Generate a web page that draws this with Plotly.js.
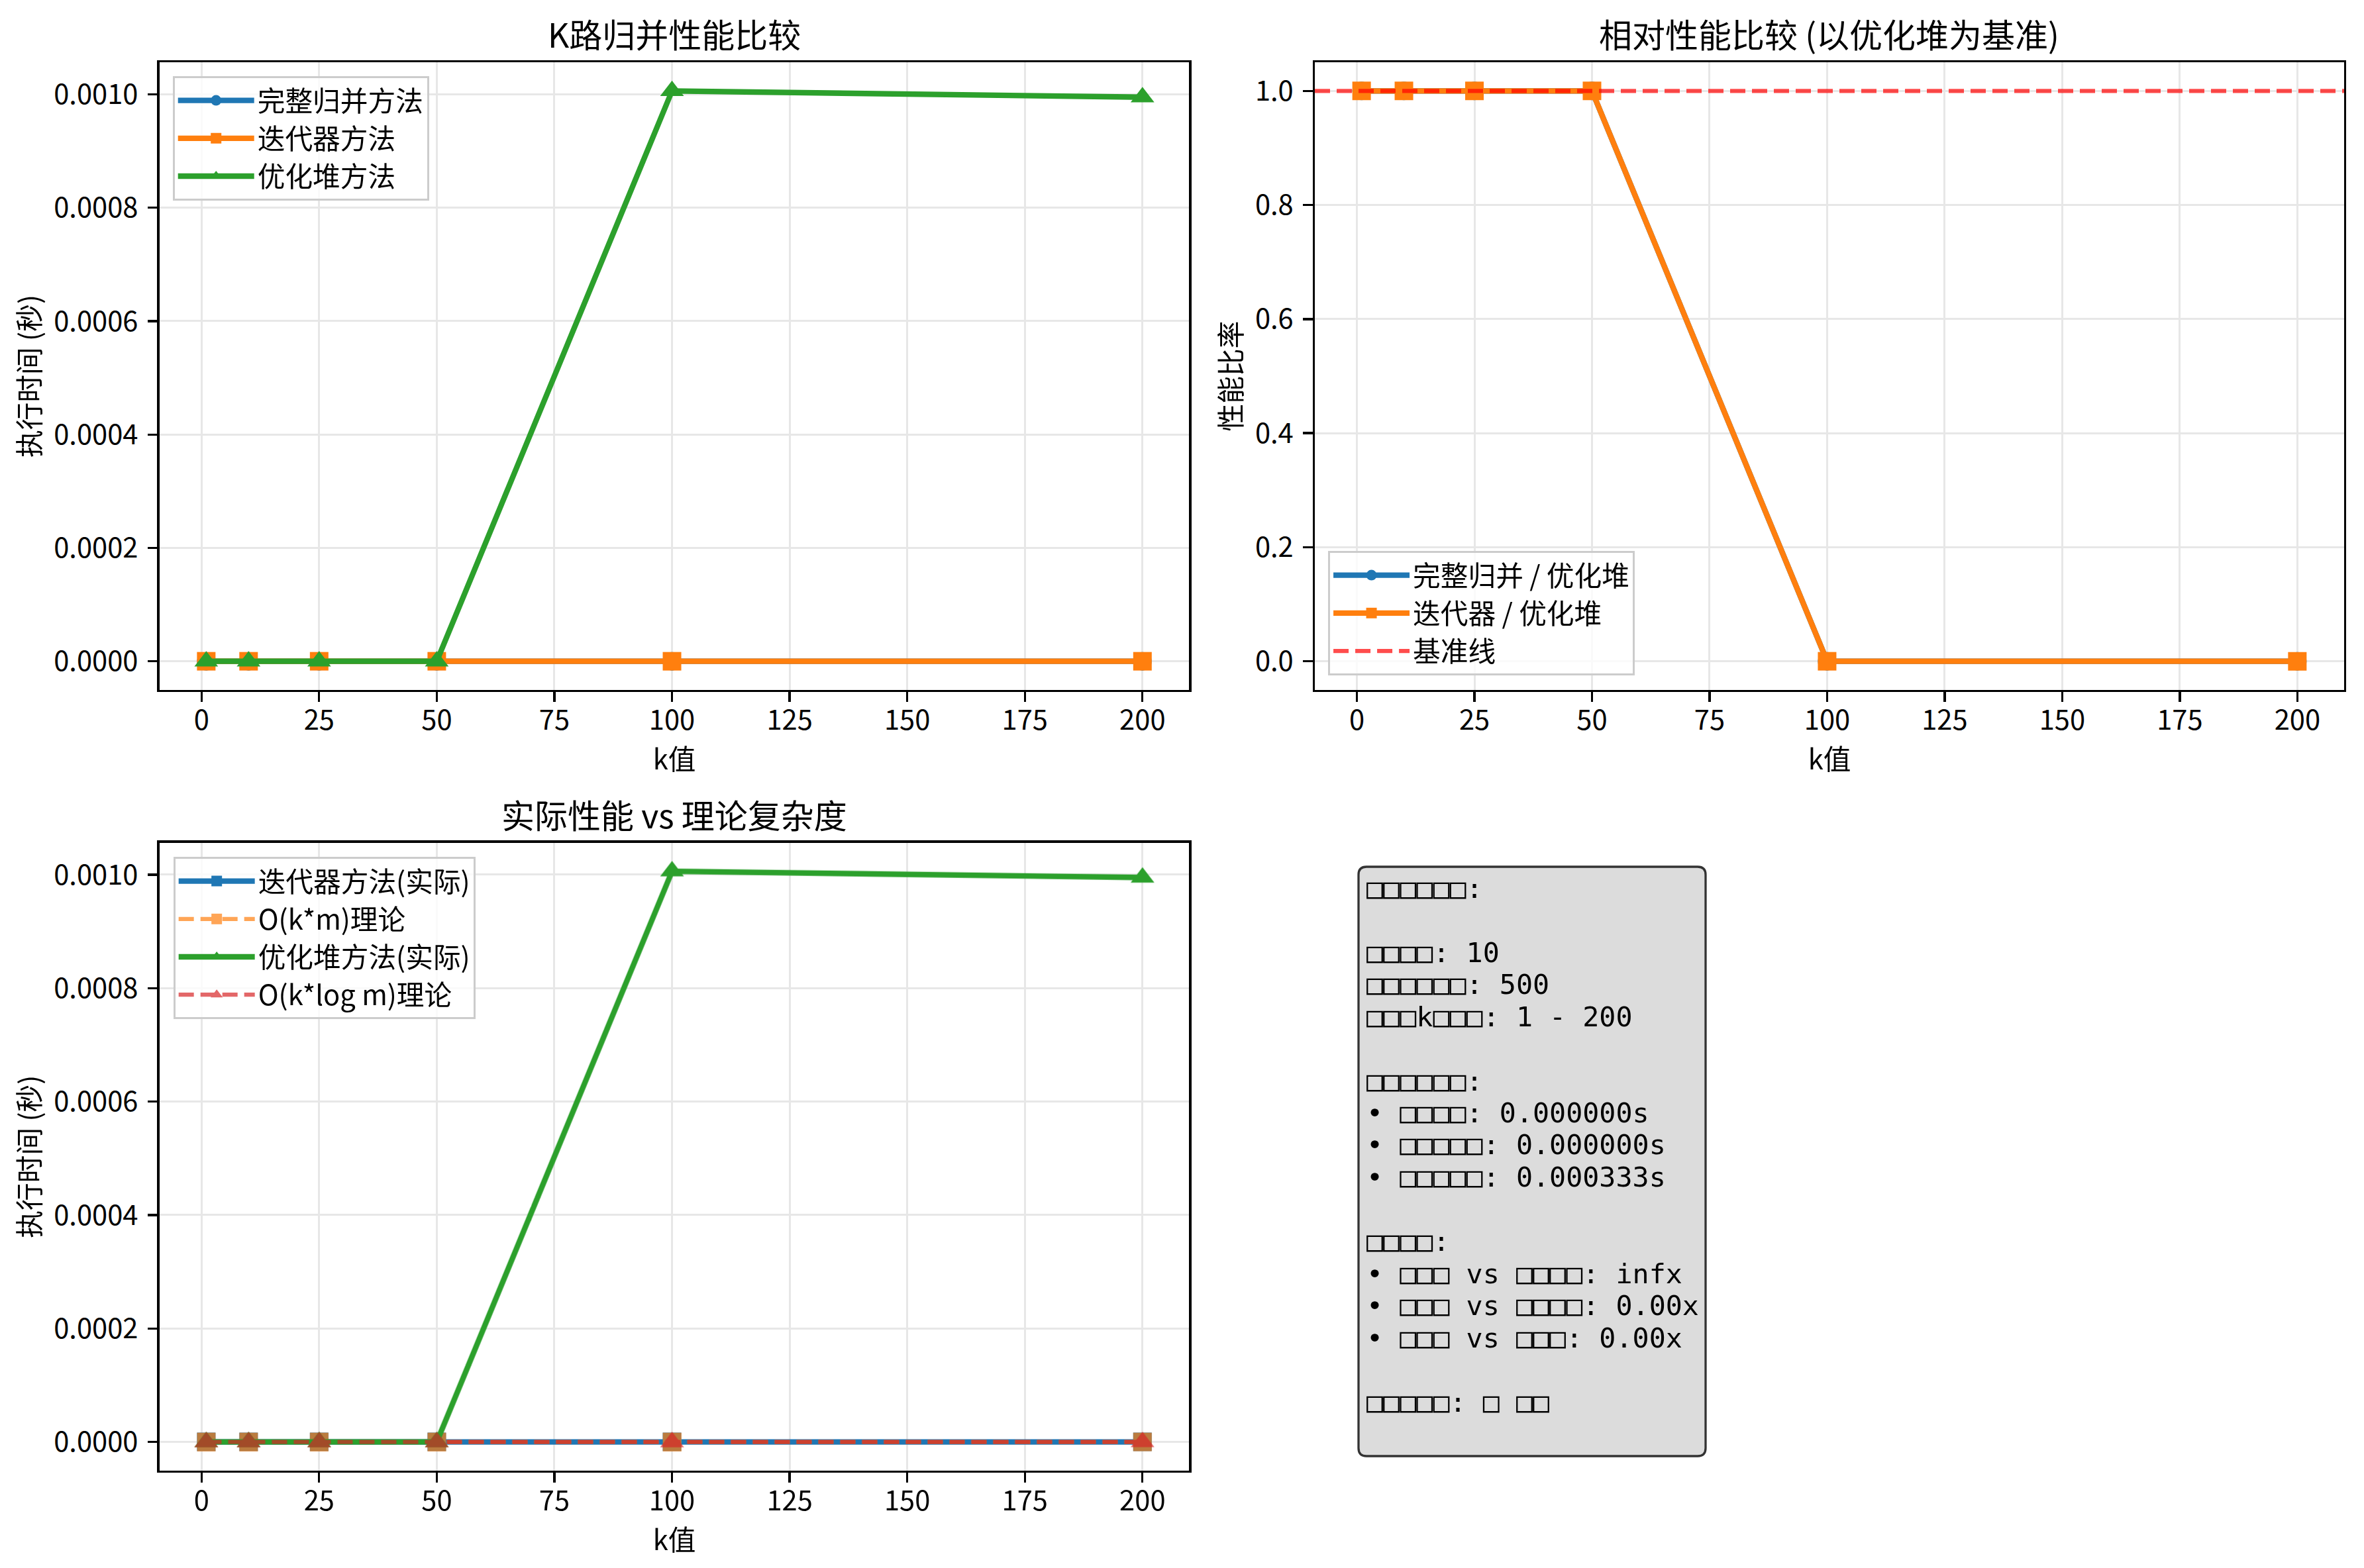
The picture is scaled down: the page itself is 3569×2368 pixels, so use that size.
<!DOCTYPE html>
<html>
<head>
<meta charset="utf-8">
<script src="https://cdn.plot.ly/plotly-3.0.1.min.js"></script>
<style>html,body{margin:0;padding:0;background:#fff;}#chart{width:3569px;height:2368px;}</style>
</head>
<body>
<div id="chart"></div>
<script>
// ---- data ----
const kValues = [1, 10, 25, 50, 100, 200];
const fullMergeTimes = [0, 0, 0, 0, 0, 0];
const iteratorTimes = [0, 0, 0, 0, 0, 0];
const heapTimes = [0, 0, 0, 0, 0.001006, 0.000995];
const fullVsHeapRatio = [1, 1, 1, 1, 0, 0];
const iterVsHeapRatio = [1, 1, 1, 1, 0, 0];
const baselineValue = 1.0;
const theoryKM = [0, 0, 0, 0, 0, 0];
const theoryKLogM = [0, 0, 0, 0, 0, 0];
const xTicks = [0, 25, 50, 75, 100, 125, 150, 175, 200];
const timeTicks = [0, 0.0002, 0.0004, 0.0006, 0.0008, 0.0010];
const ratioTicks = [0, 0.2, 0.4, 0.6, 0.8, 1.0];
const summaryLines = [
  "□□□□□□:",
  "",
  "□□□□: 10",
  "□□□□□□: 500",
  "□□□k□□□: 1 - 200",
  "",
  "□□□□□□:",
  "• □□□□: 0.000000s",
  "• □□□□□: 0.000000s",
  "• □□□□□: 0.000333s",
  "",
  "□□□□:",
  "• □□□ vs □□□□: infx",
  "• □□□ vs □□□□: 0.00x",
  "• □□□ vs □□□: 0.00x",
  "",
  "□□□□□: □ □□"
];

// ---- styling ----
const W = 3569, H = 2368;
const C = {blue:'#1f77b4', orange:'#ff7f0e', green:'#2ca02c', red:'#d62728'};
const FONT = 'Noto Sans CJK SC, sans-serif';
const FS = 41.7;
const LW = 8.3;
const MS = 28;
const TRI = 31;
const DASH = '23px,10px';

function pad(arr, frac){ const mn = Math.min(...arr), mx = Math.max(...arr); const p = (mx-mn)*frac; return [mn-p, mx+p]; }
const xRange = pad(kValues, 0.05);
const tRange = pad(heapTimes.concat(iteratorTimes, fullMergeTimes), 0.05);
const rRange = pad(iterVsHeapRatio.concat([baselineValue]), 0.05);

function line(x, y, name, color, sym, ax, leg, extra){
  return Object.assign({
    x: x, y: y, name: name, type: 'scatter', mode: 'lines+markers',
    xaxis: 'x'+ax, yaxis: 'y'+ax, legend: leg,
    line: {color: color, width: LW},
    marker: {symbol: sym, size: sym==='triangle-up'?TRI:MS, color: color, line: {width: 0}}
  }, extra||{});
}

const traces = [
  line(kValues, fullMergeTimes, '完整归并方法', C.blue, 'circle', '', 'legend'),
  line(kValues, iteratorTimes, '迭代器方法', C.orange, 'square', '', 'legend'),
  line(kValues, heapTimes, '优化堆方法', C.green, 'triangle-up', '', 'legend'),

  line(kValues, fullVsHeapRatio, '完整归并 / 优化堆', C.blue, 'circle', '2', 'legend2'),
  line(kValues, iterVsHeapRatio, '迭代器 / 优化堆', C.orange, 'square', '2', 'legend2'),
  {x:[null], y:[null], name:'基准线', type:'scatter', mode:'lines', xaxis:'x2', yaxis:'y2', legend:'legend2',
   line:{color:'rgba(255,0,0,0.7)', width:6.25, dash:DASH}, showlegend:true},

  line(kValues, iteratorTimes, '迭代器方法(实际)', C.blue, 'square', '3', 'legend3'),
  line(kValues, theoryKM, 'O(k*m)理论', C.orange, 'square', '3', 'legend3',
       {opacity:0.7, line:{color:C.orange, width:6.25, dash:DASH}}),
  line(kValues, heapTimes, '优化堆方法(实际)', C.green, 'triangle-up', '3', 'legend3'),
  line(kValues, theoryKLogM, 'O(k*log m)理论', C.red, 'triangle-up', '3', 'legend3',
       {opacity:0.7, line:{color:C.red, width:6.25, dash:DASH}})
];

function xaxis(domain, anchor){
  return {domain: domain, anchor: anchor, range: xRange, tickvals: xTicks, ticktext: xTicks.map(String),
    showgrid: true, gridcolor: '#e7e7e7', gridwidth: 3, zeroline: false,
    showline: true, linecolor: '#000', linewidth: 3.3, mirror: true,
    ticks: 'outside', ticklen: 14.6, tickwidth: 3.3, tickcolor: '#000', ticklabelstandoff: -8,
    tickfont: {family: FONT, size: FS, color: '#000'},
    title: {text: 'k值', font: {family: FONT, size: FS, color: '#000'}, standoff: 0}};
}
function yaxis(domain, anchor, range, ticks, fmt, title){
  return {domain: domain, anchor: anchor, range: range, tickvals: ticks, ticktext: ticks.map(v => v.toFixed(fmt)),
    showgrid: true, gridcolor: '#e7e7e7', gridwidth: 3, zeroline: false,
    showline: true, linecolor: '#000', linewidth: 3.3, mirror: true,
    ticks: 'outside', ticklen: 14.6, tickwidth: 3.3, tickcolor: '#000', ticklabelstandoff: 6,
    tickfont: {family: FONT, size: FS, color: '#000'},
    title: {text: title, font: {family: FONT, size: FS, color: '#000'}, standoff: 8}};
}

const DL = [0.06744, 0.50308], DR = [0.55618, 0.99159];
const DT = [0.56009, 0.96018], DB = [0.06220, 0.46255];

const legendBase = {bgcolor: 'rgba(255,255,255,0.8)', bordercolor: '#cccccc', borderwidth: 3,
  font: {family: FONT, size: FS, color: '#000'}, xanchor: 'left', tracegroupgap: 0, itemwidth: 115};

function title(text, dom, top){
  return {text: text, xref: 'paper', yref: 'paper', x: (dom[0]+dom[1])/2, y: top, xanchor: 'center', yanchor: 'bottom',
    yshift: 6, showarrow: false, font: {family: FONT, size: 50, color: '#000'}};
}

// summary text box (px positions converted to paper fractions)
const BOX = {x0: 2051, x1: 2575, y0: 1309, y1: 2199, r: 12};
const px = v => v / W, py = v => 1 - v / H;
const rx = BOX.r / W, ry = BOX.r / H;
const bx0 = px(BOX.x0), bx1 = px(BOX.x1), by0 = py(BOX.y1), by1 = py(BOX.y0);
const boxPath = `M${bx0+rx},${by0} L${bx1-rx},${by0} Q${bx1},${by0} ${bx1},${by0+ry} L${bx1},${by1-ry} Q${bx1},${by1} ${bx1-rx},${by1} L${bx0+rx},${by1} Q${bx0},${by1} ${bx0},${by1-ry} L${bx0},${by0+ry} Q${bx0},${by0} ${bx0+rx},${by0} Z`;
const TEXT_X = 2062, TEXT_Y0 = 1341, LINE_STEP = 48.5;
const summaryAnnotations = summaryLines.map((t, i) => ({
  text: t, xref: 'paper', yref: 'paper', x: px(TEXT_X), y: py(TEXT_Y0 + i * LINE_STEP),
  xanchor: 'left', yanchor: 'middle', align: 'left', showarrow: false, borderpad: 0,
  font: {family: 'DejaVu Sans Mono, monospace', size: FS, color: '#000'}
})).filter(a => a.text !== '');

const layout = {
  width: W, height: H, margin: {l:0, r:0, t:0, b:0},
  paper_bgcolor: '#fff', plot_bgcolor: '#fff',
  font: {family: FONT, size: FS, color: '#000'},
  xaxis: xaxis(DL, 'y'), yaxis: yaxis(DT, 'x', tRange, timeTicks, 4, '执行时间 (秒)'),
  xaxis2: xaxis(DR, 'y2'), yaxis2: yaxis(DT, 'x2', rRange, ratioTicks, 1, '性能比率'),
  xaxis3: xaxis(DL, 'y3'), yaxis3: yaxis(DB, 'x3', tRange, timeTicks, 4, '执行时间 (秒)'),
  legend: Object.assign({}, legendBase, {x: 0.07305, y: 0.95144, yanchor: 'top'}),
  legend2: Object.assign({}, legendBase, {x: 0.5618, y: 0.56926, yanchor: 'bottom'}),
  legend3: Object.assign({}, legendBase, {x: 0.07332, y: 0.45355, yanchor: 'top'}),
  shapes: [
    {type: 'line', xref: 'x2 domain', x0: 0, x1: 1, yref: 'y2', y0: baselineValue, y1: baselineValue,
     line: {color: 'rgba(255,0,0,0.7)', width: 6.25, dash: DASH}, layer: 'above'},
    {type: 'path', xref: 'paper', yref: 'paper', path: boxPath, fillcolor: '#dcdcdc',
     line: {color: '#333333', width: 3.3}, layer: 'below'}
  ],
  annotations: [
    title('K路归并性能比较', DL, DT[1]),
    title('相对性能比较 (以优化堆为基准)', DR, DT[1]),
    title('实际性能 vs 理论复杂度', DL, DB[1])
  ].concat(summaryAnnotations),
  showlegend: true
};

Plotly.newPlot('chart', traces, layout, {staticPlot: true});
</script>
</body>
</html>
